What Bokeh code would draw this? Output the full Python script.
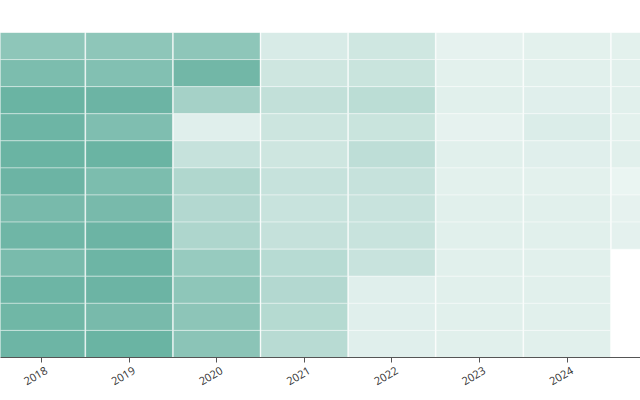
import math
from bokeh.plotting import figure
from bokeh.models import (ColumnDataSource, Range1d, FixedTicker, LinearColorMapper,
                          LinearAxis, CustomJSTickFormatter)
from bokeh.transform import transform
from bokeh.embed import file_html
from bokeh.resources import INLINE

years = [2018, 2019, 2020, 2021, 2022, 2023, 2024, 2025]
months = [1, 2, 3, 4, 5, 6, 7, 8, 9, 10, 11, 12]

v2018 = [75, 87, 99, 97, 99, 98, 90, 96, 89, 97, 95, 97]
v2019 = [75, 83, 98, 85, 99, 87, 90, 98, 97, 98, 90, 99]
v2020 = [75, 94, 60, 21, 38, 53, 51, 54, 69, 75, 76, 77]
v2021 = [26, 33, 41, 34, 33, 38, 37, 39, 48, 51, 49, 47]
v2022 = [32, 36, 45, 36, 43, 38, 37, 37, 37, 21, 21, 21]
v2023 = [17, 19, 20, 17, 20, 19, 20, 20, 20, 20, 20, 20]
v2024 = [19, 20, 21, 24, 21, 19, 20, 20, 20, 20, 20, 20]
v2025 = [19, 20, 20, 19, 20, 14, 17, 18]

columns = [v2018, v2019, v2020, v2021, v2022, v2023, v2024, v2025]
xs, ys, vals = [], [], []
for yr, col in zip(years, columns):
    for m, v in zip(months, col):
        xs.append(yr)
        ys.append(m)
        vals.append(v)
src = ColumnDataSource(dict(year=xs, month=ys, val=vals))

def hexmix(t):
    base = (105, 179, 162)
    c = [round(255 + (b - 255) * t) for b in base]
    return "#%02x%02x%02x" % tuple(c)

palette = [hexmix(i / 255) for i in range(256)]
mapper = LinearColorMapper(palette=palette, low=0, high=100)

p = figure(frame_width=640, frame_height=325, output_backend="svg",
           toolbar_location=None, x_range=Range1d(2017.532, 2024.838),
           y_range=Range1d(12.5, 0.5), min_border_left=0, min_border_right=0,
           min_border_top=32, min_border_bottom=35)
p.rect(x="year", y="month", width=0.99, height=1, source=src,
       fill_color=transform("val", mapper), line_color="white",
       line_alpha=0.4, line_width=1)

p.yaxis.visible = False
p.xgrid.visible = False
p.ygrid.visible = False
p.outline_line_color = None

# axis with ticks only
p.xaxis.ticker = FixedTicker(ticks=years)
p.xaxis.formatter = CustomJSTickFormatter(code="return '';")
p.xaxis.major_label_text_font_size = "0px"
p.xaxis.major_label_standoff = 0
p.xaxis.minor_tick_line_color = None
p.xaxis.major_tick_in = 0
p.xaxis.major_tick_out = 5
p.xaxis.axis_line_color = "#555555"
p.xaxis.major_tick_line_color = "#555555"

# axis carrying the rotated year labels
shift = 0.057
lab_axis = LinearAxis(ticker=FixedTicker(ticks=[y + shift for y in years]),
                      formatter=CustomJSTickFormatter(code="return String(Math.round(tick));"))
lab_axis.axis_line_color = None
lab_axis.major_tick_line_color = None
lab_axis.minor_tick_line_color = None
lab_axis.major_tick_in = 0
lab_axis.major_tick_out = 0
lab_axis.major_label_standoff = 7
lab_axis.major_label_orientation = math.pi / 6
lab_axis.major_label_text_font = "Open Sans"
lab_axis.major_label_text_font_size = "11px"
lab_axis.major_label_text_color = "#333333"
p.add_layout(lab_axis, "below")

open("out.html", "w").write(file_html(p, INLINE))
